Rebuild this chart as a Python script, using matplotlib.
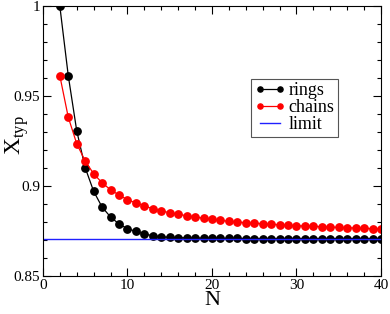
"""Typical X versus N for rings and chains, with the large-N limit."""

import matplotlib

matplotlib.use("Agg")

import matplotlib.pyplot as plt
from matplotlib.ticker import FormatStrFormatter, MultipleLocator

# values
n_rings = list(range(2, 41))
x_rings = [
    1.0, 0.9613, 0.9307, 0.9102, 0.8971, 0.8883, 0.8828, 0.8789, 0.8763,
    0.8748, 0.8733, 0.8724, 0.8718, 0.8715, 0.8713, 0.8712, 0.8711, 0.8710,
    0.8710, 0.8709, 0.8709, 0.8709, 0.8708, 0.8708, 0.8708, 0.8708, 0.8708,
    0.8708, 0.8708, 0.8708, 0.8708, 0.8708, 0.8708, 0.8708, 0.8708, 0.8708,
    0.8708, 0.8708, 0.8708,
]

n_chains = list(range(2, 41))
x_chains = [
    0.9613, 0.9382, 0.9235, 0.9139, 0.9068, 0.9018, 0.8979, 0.8950, 0.8924,
    0.8906, 0.8889, 0.8874, 0.8861, 0.8852, 0.8843, 0.8835, 0.8828, 0.8821,
    0.8815, 0.8809, 0.8804, 0.8800, 0.8796, 0.8793, 0.8791, 0.8787, 0.8785,
    0.8782, 0.8779, 0.8778, 0.8776, 0.8774, 0.8772, 0.8770, 0.8768, 0.8767,
    0.8765, 0.8763, 0.8761,
]

n_limit = [0, 40]
x_limit = [0.8708, 0.8708]


def main() -> None:
    plt.rcParams["font.family"] = ["Liberation Serif", "DejaVu Serif"]
    plt.rcParams["mathtext.fontset"] = "custom"
    plt.rcParams["mathtext.rm"] = "Liberation Serif"

    fig = plt.figure(figsize=(3.9, 3.14), dpi=100)
    ax = fig.add_axes([0.110, 0.121, 0.867, 0.860])

    ax.plot(n_rings, x_rings, color="black", linewidth=0.9, marker="o",
            markersize=5.3, label="rings")
    ax.plot(n_chains, x_chains, color="red", linewidth=0.9, marker="o",
            markersize=5.3, label="chains")
    ax.plot(n_limit, x_limit, color="#2020ff", linewidth=1.0, label="limit")

    ax.set_xlim(0, 40)
    ax.set_ylim(0.85, 1.0)
    ax.xaxis.set_major_locator(MultipleLocator(10))
    ax.xaxis.set_minor_locator(MultipleLocator(2))
    ax.yaxis.set_major_locator(MultipleLocator(0.05))
    ax.yaxis.set_minor_locator(MultipleLocator(0.01))
    ax.yaxis.set_major_formatter(FormatStrFormatter("%g"))

    ax.tick_params(which="both", direction="in", top=True, right=True,
                   labelsize=11, pad=2)
    ax.tick_params(which="major", length=6, width=0.8)
    ax.tick_params(which="minor", length=3, width=0.8)

    ax.set_xlabel("N", fontsize=16, labelpad=-0.5)
    ax.set_ylabel(r"X$_{\mathrm{typ}}$", fontsize=17)
    ax.yaxis.set_label_coords(-0.036, 0.52)

    leg = ax.legend(loc="upper right", bbox_to_anchor=(0.873, 0.73),
                    borderaxespad=0.0, fontsize=13, numpoints=2,
                    markerscale=0.7, handlelength=1.7, handletextpad=0.2,
                    borderpad=0.2, labelspacing=0.0, fancybox=False,
                    framealpha=1.0, edgecolor="#555555")
    leg.get_frame().set_linewidth(0.8)

    fig.savefig("out.png", dpi=100)
    plt.close(fig)


if __name__ == "__main__":
    main()
